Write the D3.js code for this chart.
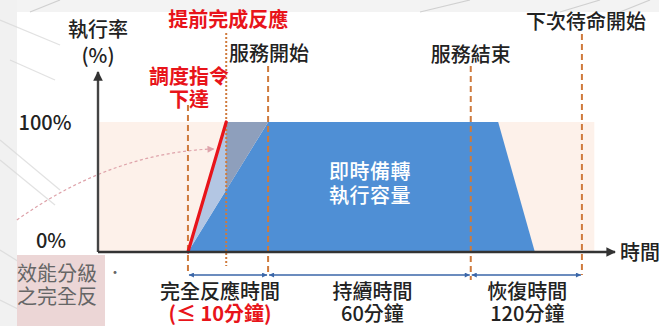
<!DOCTYPE html>
<html>
<head>
<meta charset="utf-8">
<script src="https://cdn.jsdelivr.net/npm/d3@7/dist/d3.min.js"></script>
<style>
  html, body { margin: 0; padding: 0; background: #fff; }
  svg { display: block; }
  text { font-family: "Noto Sans CJK TC", "Noto Sans CJK SC", sans-serif; }
</style>
</head>
<body>
<svg id="chart" width="659" height="326"></svg>
<script>
// ---------- data (schematic time in % of axis length, rate in %) ----------
const milestones = [
  { key: "dispatch", t: 17.4, label: ["調度指令", "下達"], color: "#e8141a", style: "dash" },
  { key: "early",    t: 24.8, label: ["提前完成反應"],      color: "#e8141a", style: "dot" },
  { key: "start",    t: 32.9, label: ["服務開始"],          color: "#222",    style: "dash" },
  { key: "end",      t: 72.1, label: ["服務結束"],          color: "#222",    style: "dash" },
  { key: "next",     t: 93.6, label: ["下次待命開始"],      color: "#222",    style: "dash" }
];
const capacityProfile = [ // 即時備轉執行容量
  { t: 17.4, r: 0 }, { t: 32.9, r: 100 }, { t: 77.4, r: 100 }, { t: 84.5, r: 0 }
];
const earlyResponse = [ // 提前完成反應 (red)
  { t: 17.4, r: 0 }, { t: 24.8, r: 100 }
];
const standbyWindow = { t0: 0, t1: 96.0, r0: 0, r1: 100 };
const yTickLabels = [ { r: 100, text: "100%" }, { r: 0, text: "0%" } ];
const periods = [
  { from: "dispatch", to: "start", title: "完全反應時間", sub: "(≤ 10分鐘)", subColor: "#e8141a" },
  { from: "start",    to: "end",   title: "持續時間",     sub: "60分鐘",     subColor: "#222" },
  { from: "end",      to: "next",  title: "恢復時間",     sub: "120分鐘",    subColor: "#222" }
];

// ---------- scales ----------
const svg = d3.select("#chart");
const x = d3.scaleLinear().domain([0, 100]).range([98, 615]);
const y = d3.scaleLinear().domain([0, 100]).range([252, 122]);
const mx = k => x(milestones.find(m => m.key === k).t);

// ---------- background decoration ----------
const deco = svg.append("g");
deco.append("rect").attr("x", 0).attr("y", 0).attr("width", 659).attr("height", 12).attr("fill", "#f3f3f3");
deco.append("rect").attr("x", 0).attr("y", 0).attr("width", 17).attr("height", 326).attr("fill", "#f1f1f1");
[[0, 140, 60, 190], [0, 160, 55, 205], [0, 250, 40, 275], [0, 300, 30, 315], [0, 20, 60, 45], [10, 60, 55, 80]].forEach(l =>
  deco.append("line").attr("x1", l[0]).attr("y1", l[1]).attr("x2", l[2]).attr("y2", l[3])
    .attr("stroke", "#d6d6d6").attr("stroke-width", 1.2).attr("opacity", 0.7));
[[420, 12, 470, 0], [560, 12, 600, 0], [620, 12, 650, 0], [30, 12, 60, 0]].forEach(l =>
  deco.append("line").attr("x1", l[0]).attr("y1", l[1]).attr("x2", l[2]).attr("y2", l[3])
    .attr("stroke", "#d0d0d0").attr("stroke-width", 1.2));

// pink overlay box (overlapping slide)
deco.append("rect").attr("x", 17).attr("y", 255).attr("width", 88).attr("height", 71).attr("fill", "#ecd6d6");
svg.append("defs").append("clipPath").attr("id", "boxclip")
  .append("rect").attr("x", 17).attr("y", 255).attr("width", 88).attr("height", 71);
deco.append("g").attr("clip-path", "url(#boxclip)")
  .append("text").attr("y", 281).attr("font-size", 20).attr("fill", "#666")
  .selectAll("tspan").data(["效能分級", "之完全反"]).join("tspan")
  .attr("x", 17).attr("dy", (d, i) => i === 0 ? 0 : 23).text(d => d);
deco.append("text").attr("x", 108).attr("y", 277).attr("font-size", 14).attr("fill", "#666").text("·");

// ---------- markers ----------
const defs = svg.select("defs");
defs.append("marker").attr("id", "axisHead").attr("viewBox", "0 0 10 10").attr("refX", 9).attr("refY", 5)
  .attr("markerWidth", 4).attr("markerHeight", 4).attr("orient", "auto").attr("markerUnits", "strokeWidth")
  .append("path").attr("d", "M0,0 L10,5 L0,10 z").attr("fill", "#333");
defs.append("marker").attr("id", "blueHead").attr("viewBox", "0 0 10 10").attr("refX", 10).attr("refY", 5)
  .attr("markerWidth", 9).attr("markerHeight", 5).attr("orient", "auto-start-reverse").attr("markerUnits", "userSpaceOnUse")
  .append("path").attr("d", "M0,0 L10,5 L0,10 z").attr("fill", "#3a66a8");
defs.append("marker").attr("id", "pinkHead").attr("viewBox", "0 0 10 10").attr("refX", 9).attr("refY", 5)
  .attr("markerWidth", 9).attr("markerHeight", 7).attr("orient", "auto").attr("markerUnits", "userSpaceOnUse")
  .append("path").attr("d", "M0,0 L10,5 L0,10 z").attr("fill", "#dea3aa");

// ---------- standby window (pink) ----------
svg.append("rect")
  .attr("x", x(standbyWindow.t0)).attr("y", y(standbyWindow.r1))
  .attr("width", x(standbyWindow.t1) - x(standbyWindow.t0))
  .attr("height", y(standbyWindow.r0) - y(standbyWindow.r1))
  .attr("fill", "#fdf1ea");

// ---------- capacity area (blue) ----------
const area = d3.line().x(d => x(d.t)).y(d => y(d.r));
svg.append("path").datum(capacityProfile).attr("d", area(capacityProfile) + "Z").attr("fill", "#4f8fd5");

// light triangle between red line and blue edge
const tri = [earlyResponse[0], earlyResponse[1], capacityProfile[1]];
svg.append("path").attr("d", area(tri) + "Z").attr("fill", "#b3c6e3");
// grayish part right of early-completion line
const tEarly = earlyResponse[1].t;
const rAtEarly = (tEarly - capacityProfile[0].t) / (capacityProfile[1].t - capacityProfile[0].t) * 100;
const grayTri = [{ t: tEarly, r: 100 }, capacityProfile[1], { t: tEarly, r: rAtEarly }];
svg.append("path").attr("d", area(grayTri) + "Z").attr("fill", "#8e9fbc");

// capacity text
svg.append("text").attr("y", 179).attr("text-anchor", "middle")
  .attr("font-size", 20).attr("fill", "#fff").attr("font-weight", 500).attr("letter-spacing", 0.5)
  .selectAll("tspan").data(["即時備轉", "執行容量"]).join("tspan")
  .attr("x", x(52.6)).attr("dy", (d, i) => i === 0 ? 0 : 24).text(d => d);

// ---------- curved annotation arrow ----------
svg.append("path")
  .attr("d", `M${x(-15.7)},${y(24.6)} Q${x(2.7)},${y(76.5)} ${x(22.4)},${y(79.3)}`)
  .attr("fill", "none").attr("stroke", "#dea3aa").attr("stroke-width", 1.2)
  .attr("stroke-dasharray", "3,2.5").attr("marker-end", "url(#pinkHead)");

// ---------- vertical milestone lines ----------
const lineTop = { dispatch: 105, early: 33, start: 66, end: 66, next: 34 };
const lineBot = { dispatch: 275, early: 266, start: 275, end: 280, next: 275 };
svg.append("g").selectAll("line").data(milestones).join("line")
  .attr("x1", d => x(d.t)).attr("x2", d => x(d.t))
  .attr("y1", d => lineTop[d.key]).attr("y2", d => lineBot[d.key])
  .attr("stroke", "#cf7a3c").attr("stroke-width", 2)
  .attr("stroke-dasharray", d => d.style === "dot" ? "2,2" : "6,4");

// ---------- red early-response line ----------
svg.append("path").datum(earlyResponse).attr("d", area)
  .attr("fill", "none").attr("stroke", "#e8141a").attr("stroke-width", 3.2).attr("stroke-linecap", "round");

// ---------- axes ----------
svg.append("line").attr("x1", x(0)).attr("y1", y(0)).attr("x2", x(0)).attr("y2", 72)
  .attr("stroke", "#444").attr("stroke-width", 2.4).attr("marker-end", "url(#axisHead)");
svg.append("line").attr("x1", x(0)).attr("y1", y(0)).attr("x2", x(100)).attr("y2", y(0))
  .attr("stroke", "#333").attr("stroke-width", 2.4).attr("marker-end", "url(#axisHead)");

svg.append("g").selectAll("text").data(yTickLabels).join("text")
  .attr("x", d => d.r === 100 ? 45 : 51).attr("y", d => y(d.r) + (d.r === 100 ? 8 : -4))
  .attr("text-anchor", "middle").attr("font-size", 20).attr("font-weight", 500).attr("fill", "#222").text(d => d.text);

svg.append("text").attr("y", 37).attr("text-anchor", "middle").attr("font-size", 20)
  .attr("font-weight", 500).attr("fill", "#222")
  .selectAll("tspan").data(["執行率", "(%)"]).join("tspan")
  .attr("x", x(0)).attr("dy", (d, i) => i === 0 ? 0 : 26).text(d => d);
svg.append("text").attr("x", 620).attr("y", 260).attr("font-size", 20).attr("font-weight", 500)
  .attr("fill", "#222").text("時間");

// ---------- milestone labels ----------
const labelBase = { dispatch: 84, early: 27, start: 61, end: 62, next: 29 };
const labelDx = { dispatch: 1, early: 2, start: 1, end: 0, next: 4 };
milestones.forEach(m => {
  svg.append("text").attr("y", labelBase[m.key])
    .attr("text-anchor", "middle").attr("font-size", 20)
    .attr("font-weight", m.color === "#e8141a" ? 700 : 500)
    .attr("fill", m.color)
    .selectAll("tspan").data(m.label).join("tspan")
    .attr("x", x(m.t) + labelDx[m.key]).attr("dy", (d, i) => i === 0 ? 0 : 23).text(d => d);
});

// ---------- period arrows and labels ----------
const periodDx = [-8, 3, 1];
periods.forEach((p, i) => {
  const a = mx(p.from), b = mx(p.to);
  svg.append("line").attr("x1", a + 1).attr("x2", b - 1).attr("y1", 275).attr("y2", 275)
    .attr("stroke", "#3a66a8").attr("stroke-width", 1.3)
    .attr("marker-start", "url(#blueHead)").attr("marker-end", "url(#blueHead)");
  const cx = (a + b) / 2 + periodDx[i];
  const t = svg.append("text").attr("y", 299).attr("text-anchor", "middle")
    .attr("font-size", 20).attr("font-weight", 500).attr("fill", "#222");
  t.append("tspan").attr("x", cx).text(p.title);
  t.append("tspan").attr("x", cx).attr("dy", 22).attr("fill", p.subColor)
    .attr("font-weight", p.subColor === "#e8141a" ? 700 : 500).text(p.sub);
});
</script>
</body>
</html>
